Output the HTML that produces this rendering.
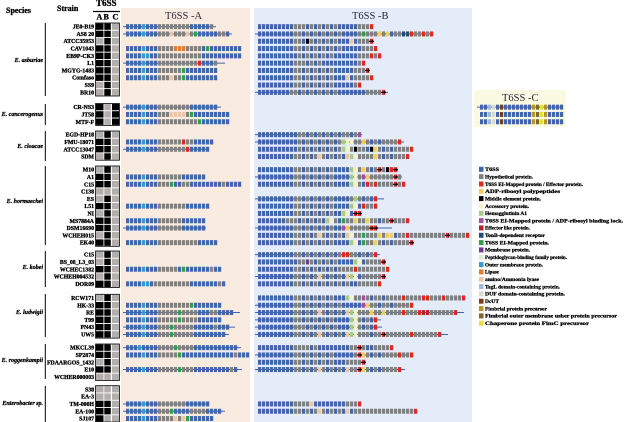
<!DOCTYPE html>
<html><head><meta charset="utf-8">
<style>
html,body{margin:0;padding:0;background:#fff;}
svg{display:block;}
text{font-family:"Liberation Serif",serif;font-weight:bold;fill:#000;}
.sp{font-style:italic;font-size:6px;stroke:#000;stroke-width:0.25px;}
.st{font-size:5.8px;stroke:#000;stroke-width:0.3px;}
.lg{font-size:5px;stroke:#000;stroke-width:0.25px;}
.ti{font-weight:normal;font-size:10.5px;fill:#2a2a3a;}
.hd{stroke:#000;stroke-width:0.3px;}
</style></head><body>
<svg id="s" width="624" height="422" viewBox="0 0 624 422" xmlns="http://www.w3.org/2000/svg">
<rect x="121" y="8" width="129" height="414" fill="#faebe1"/>
<rect x="254" y="8" width="218" height="414" fill="#e3ecf8"/>
<rect x="474" y="90" width="92" height="37" fill="#fafae3"/>
<g id="genes"></g>
<g id="mat"></g>
<text class="ti" x="165" y="19">T6SS -A</text>
<text class="ti" x="352" y="19">T6SS -B</text>
<text class="ti" x="502" y="101">T6SS -C</text>

<text class="hd" x="6" y="13" font-size="8">Species</text>
<text class="hd" x="57" y="11" font-size="8">Strain</text>
<text class="hd" x="96" y="6" font-size="9">T6SS</text>
<line x1="93" y1="11.5" x2="120" y2="11.5" stroke="#000" stroke-width="1.2"/>
<text class="hd" x="96.5" y="19.5" font-size="8">A</text>
<text class="hd" x="103.5" y="19.5" font-size="8">B</text>
<text class="hd" x="112.5" y="19.5" font-size="8">C</text>

<g stroke="#000" stroke-width="1">
<line x1="45.3" y1="23" x2="45.3" y2="96"/>
<line x1="45.3" y1="104" x2="45.3" y2="125"/>
<line x1="45.3" y1="131" x2="45.3" y2="161"/>
<line x1="45.3" y1="166" x2="45.3" y2="245"/>
<line x1="45.3" y1="251" x2="45.3" y2="287"/>
<line x1="45.3" y1="294" x2="45.3" y2="337"/>
<line x1="45.3" y1="344" x2="45.3" y2="379"/>
<line x1="45.3" y1="386" x2="45.3" y2="422"/>
</g>
<g text-anchor="end">
<text class="sp" x="43" y="62">E. asburiae</text>
<text class="sp" x="43" y="116">E. cancerogenus</text>
<text class="sp" x="43" y="148">E. cloacae</text>
<text class="sp" x="43" y="203">E. hormaechei</text>
<text class="sp" x="43" y="269">E. kobei</text>
<text class="sp" x="43" y="314">E. ludwigii</text>
<text class="sp" x="43" y="362">E. roggenkampii</text>
<text class="sp" x="43" y="405">Enterobacter sp.</text>
</g>
<g id="strains" text-anchor="end">
<text class="st" x="94" y="28.6">JE0-B19</text>
<text class="st" x="94" y="35.9">AS8 20</text>
<text class="st" x="94" y="43.2">ATCC35953</text>
<text class="st" x="94" y="50.5">CAV1043</text>
<text class="st" x="94" y="57.8">EB9P-CK3</text>
<text class="st" x="94" y="65.1">L1</text>
<text class="st" x="94" y="72.4">MGYG-1483</text>
<text class="st" x="94" y="79.7">Comfaso</text>
<text class="st" x="94" y="87.0">SS9</text>
<text class="st" x="94" y="94.3">BR10</text>
<text class="st" x="94" y="109.2">CR-NS3</text>
<text class="st" x="94" y="116.5">JT58</text>
<text class="st" x="94" y="123.8">MTF-F</text>
<text class="st" x="94" y="136.7">EGD-HP18</text>
<text class="st" x="94" y="144.0">FMU-18071</text>
<text class="st" x="94" y="151.3">ATCC13047</text>
<text class="st" x="94" y="158.6">SDM</text>
<text class="st" x="94" y="171.7">M10</text>
<text class="st" x="94" y="179.0">A1</text>
<text class="st" x="94" y="186.3">C15</text>
<text class="st" x="94" y="193.6">C138</text>
<text class="st" x="94" y="200.9">ES</text>
<text class="st" x="94" y="208.2">L51</text>
<text class="st" x="94" y="215.5">NI</text>
<text class="st" x="94" y="222.8">MS7884A</text>
<text class="st" x="94" y="230.1">DSM16690</text>
<text class="st" x="94" y="237.4">WCHEH015</text>
<text class="st" x="94" y="244.7">EK40</text>
<text class="st" x="94" y="256.7">C15</text>
<text class="st" x="94" y="264.0">BS_08_L3_03</text>
<text class="st" x="94" y="271.3">WCHEC1382</text>
<text class="st" x="94" y="278.6">WCHEH004532</text>
<text class="st" x="94" y="285.9">DOR09</text>
<text class="st" x="94" y="300.0">RCW171</text>
<text class="st" x="94" y="307.3">HK-33</text>
<text class="st" x="94" y="314.6">RE</text>
<text class="st" x="94" y="321.9">T99</text>
<text class="st" x="94" y="329.2">PN43</text>
<text class="st" x="94" y="336.5">UW5</text>
<text class="st" x="94" y="349.7">MKCL39</text>
<text class="st" x="94" y="357.0">SP2874</text>
<text class="st" x="94" y="364.3">FDAARGOS_1432</text>
<text class="st" x="94" y="371.6">E10</text>
<text class="st" x="94" y="378.9">WCHER000003</text>
<text class="st" x="94" y="391.4">S38</text>
<text class="st" x="94" y="398.7">EA-3</text>
<text class="st" x="94" y="406.0">TM-000H</text>
<text class="st" x="94" y="413.3">EA-100</text>
<text class="st" x="94" y="420.6">SJ107</text>
</g>

<g id="legend">
<rect x="479" y="166.8" width="4.5" height="5" fill="#4066ad"/>
<rect x="479" y="174.1" width="4.5" height="5" fill="#808080"/>
<rect x="479" y="181.5" width="4.5" height="5" fill="#e0281f"/>
<rect x="479" y="188.8" width="4.5" height="5" fill="#f2cb68"/>
<rect x="479" y="196.1" width="4.5" height="5" fill="#000000"/>
<rect x="479" y="203.5" width="4.5" height="5" fill="#f8efcf"/>
<rect x="479" y="210.8" width="4.5" height="5" fill="#a7c98a"/>
<rect x="479" y="218.1" width="4.5" height="5" fill="#a050a0"/>
<rect x="479" y="225.4" width="4.5" height="5" fill="#b5222a"/>
<rect x="479" y="232.8" width="4.5" height="5" fill="#1f4e79"/>
<rect x="479" y="240.1" width="4.5" height="5" fill="#2ea04a"/>
<rect x="479" y="247.4" width="4.5" height="5" fill="#6c3a95"/>
<rect x="479" y="254.8" width="4.5" height="5" fill="#dfe9d6"/>
<rect x="479" y="262.1" width="4.5" height="5" fill="#2f9bd3"/>
<rect x="479" y="269.4" width="4.5" height="5" fill="#e47c30"/>
<rect x="479" y="276.8" width="4.5" height="5" fill="#eec4a6"/>
<rect x="479" y="284.1" width="4.5" height="5" fill="#9db9da"/>
<rect x="479" y="291.4" width="4.5" height="5" fill="#d8d8d8"/>
<rect x="479" y="298.7" width="4.5" height="5" fill="#7a3b1a"/>
<rect x="479" y="306.1" width="4.5" height="5" fill="#b8922a"/>
<rect x="479" y="313.4" width="4.5" height="5" fill="#7d6630"/>
<rect x="479" y="320.7" width="4.5" height="5" fill="#e6df3c"/>
<text class="lg" x="485" y="171.1" textLength="14" lengthAdjust="spacingAndGlyphs">T6SS</text>
<text class="lg" x="485" y="178.4" textLength="48" lengthAdjust="spacingAndGlyphs">Hypothetical protein.</text>
<text class="lg" x="485" y="185.8" textLength="98" lengthAdjust="spacingAndGlyphs">T6SS EI-Mapped protein / Effector protein.</text>
<text class="lg" x="485" y="193.1" textLength="75" lengthAdjust="spacingAndGlyphs">ADP-ribosyl polypeptides</text>
<text class="lg" x="485" y="200.4" textLength="56" lengthAdjust="spacingAndGlyphs">Middle element protein.</text>
<text class="lg" x="485" y="207.8" textLength="44" lengthAdjust="spacingAndGlyphs">Accessory protein.</text>
<text class="lg" x="485" y="215.1" textLength="42" lengthAdjust="spacingAndGlyphs">Hemagglutinin A1</text>
<text class="lg" x="485" y="222.4" textLength="138" lengthAdjust="spacingAndGlyphs">T6SS EI-Mapped protein / ADP-ribosyl binding lock.</text>
<text class="lg" x="485" y="229.7" textLength="45" lengthAdjust="spacingAndGlyphs">Effector like protein.</text>
<text class="lg" x="485" y="237.1" textLength="60" lengthAdjust="spacingAndGlyphs">TonB-dependent receptor</text>
<text class="lg" x="485" y="244.4" textLength="64" lengthAdjust="spacingAndGlyphs">T6SS EI-Mapped protein.</text>
<text class="lg" x="485" y="251.7" textLength="45" lengthAdjust="spacingAndGlyphs">Membrane protein.</text>
<text class="lg" x="485" y="259.1" textLength="82" lengthAdjust="spacingAndGlyphs">Peptidoglycan-binding family protein.</text>
<text class="lg" x="485" y="266.4" textLength="58" lengthAdjust="spacingAndGlyphs">Outer membrane protein.</text>
<text class="lg" x="485" y="273.7" textLength="14" lengthAdjust="spacingAndGlyphs">Lipase</text>
<text class="lg" x="485" y="281.1" textLength="54" lengthAdjust="spacingAndGlyphs">amino/Ammonia lyase</text>
<text class="lg" x="485" y="288.4" textLength="75" lengthAdjust="spacingAndGlyphs">TagL domain-containing protein.</text>
<text class="lg" x="485" y="295.7" textLength="80" lengthAdjust="spacingAndGlyphs">DUF domain-containing protein.</text>
<text class="lg" x="485" y="303.0" textLength="14" lengthAdjust="spacingAndGlyphs">DcUT</text>
<text class="lg" x="485" y="310.4" textLength="62" lengthAdjust="spacingAndGlyphs">Fimbrial protein precursor</text>
<text class="lg" x="485" y="317.7" textLength="132" lengthAdjust="spacingAndGlyphs">Fimbrial outer membrane usher protein precursor</text>
<text class="lg" x="485" y="325.0" textLength="104" lengthAdjust="spacingAndGlyphs">Chaperone protein FimC precursor</text>
</g>
</svg>
<script>
(function(){
var NS="http://www.w3.org/2000/svg";
var col={B:'#4066ad',G:'#808080',T:'#2f9bd3',P:'#eec4a6',g:'#2ea04a',R:'#e0281f',O:'#e47c30',Y:'#f2cb68',K:'#000000',C:'#f8efcf',L:'#a7c98a',M:'#a050a0',D:'#b5222a',N:'#1f4e79',V:'#6c3a95',W:'#dfe9d6',S:'#9db9da',H:'#d8d8d8',E:'#7a3b1a',U:'#b8922a',Q:'#7d6630',Z:'#e6df3c',X:'#e0281f'};
var tops=[23,103.5,131,166,251,294.3,344,385.7];
var PH=7.3;
var genes=document.getElementById('genes');
var mat=document.getElementById('mat');
function el(tag,attrs,parent){var e=document.createElementNS(NS,tag);for(var k in attrs)e.setAttribute(k,attrs[k]);parent.appendChild(e);return e;}
var A=[
[["BBBBTBBBGGGGGGGGBBBBBG",216],["BBBBTBBBGGGPGGGPGgBBBBBGGB",232],0,"BBBBTBBBGGGGOOOGGGGBgBBBBBBBB","BBBBTTBBGGGGGGGGGGGBBBBBBBBBB",["BBBBTBBBGGGGGGGGGGRBBBG",225],"BBBBTBBBGGGGGGgBBBBBBBB","BBBBTBBBGGGPGGgBBBBBBBB",0,0],
[["BBBBTBBBGGGGGGGGBBBBBBB",221],"BBBBTBBBGGGPPPPGgBBBBBBBBB","BBBBTBBBGGGGGGGGGGgBBBBBBB"],
[0,"BBBBTBBBGGGGGGRGGBBBBB",["BBBBTBBBGGGGGGGRBBBBB",209],0],
[0,"BBBBTBBBGGGGGGBBBBBB","BBBBTBBBGGGgBBGGBBBBBBBBGBBBB",0,0,"BBBBTBBBGGGGGGGBBBBBB",0,"BBBBTBBBGGGGGGBBBBBB",["BBBBTBBBGGGGGGBBBBBB",206],0,"BBBBTBBBGGGGGGGGGGBBBBB"],
[0,0,"BBBBTBBBGGGGGBgBBBBBBGBB",0,"BBBBTTBGGGGGGGGGBBBBBBBGB"],
[0,"BBBBTBBBGGGGGGGGgBBBBBBB",["BBBBTBBBGGGGGgGGGGBBBGGBBBB",240],"BBBBTBBBGGGGGgGGGGBBBBBB",["BBBBTBBBGGGgGGGGGBBBBBGBBB",235],["BBBBTBBBGGGgGGGGGBBBBBBBB",229]],
[["BBBTBBBBGGGGgGGGGBBBBBBBBBBB",241],"BBBBTBBBGGGGGgBBBBBBBBBBBBBGBBB",0,["BBBBTBBBGGGGGgGGGBBBBBBBBBGB",242],0],
[0,0,["BBBBTBBBGGGGGGGBBBBBB",209],["BBBBTBBBGGGgBBBBGGGGBBBB",225],"BBBBTBBBGGGGPGPgBBBBBB"]
];
var Bd=[
["BBBBBBBBBGGGBGBGBGBGBBBBBGGGR",["BBBBBBBBBGGBGBGBGBGBGBBBBGgGGGYGYBGGNNRGGRGR",432],"BBBBBBBBBGGBKGBGBGBGBBBPBGGGX","BBBBBBBBBGGBGBGBGBGBGBBBBBGGGR","BBBBBBBBBBGBGBGBGBGBBBBBBGGGRGR","BBBBBBBBBGGGBGBGBBBBBBBBBGR","BBBBBBBBBGGBGBGBGBGBBBBBGGGX","BBBBBBBBBGGBGBGBGBGBBBPBGGGGR","BBBBBBBBBGGBGBGBGBGBBBBBGR",["BBBBBBBBGGBGBGBGBGBGBBBBBBBGGGGX",388]],
[0,0,0],
[["BBBBBBBBBBGGBGBGBGBGBGGBGM",362],["BBBBBBBBBBGBGBGBGBGBGLCCGGYGBGBGGGGR",404],"BBBBBBBBBBGBGBGBGBGBGLCGKGGBKYGBGBGGGGR","BBBBBBBBBGGBGBGPGBGBGBPLCGGGGYGBGBGGGR"],
["BBBBBBBBBGGBGBGBGBGBBBBLCGYGBGXGKRX",["BBBBBBBBBGGBGBGBGBGBBBBLCGMYGGGGGGXG",402],"BBBBBBBBBGGBGBGBGBGBBBBLCGBRGRGGGGXGR",0,["BBBBBBBBBGGBGBGBGBGBBBBGLGBGBR",384],"BBBBBBBBBGGBGBGBGBGBBBBLCBRGGR","BBBBBBBBBGGBGBGBGBGBBLCBXX","BBBBBBBGGGBGBGBGBLCGBgGGYGGYGGBGGXGGGR",["BBBBBBBBBGGBGBGBGBGBBMYGGGGGXX",392],"BBBBBBBBBGGBGBGPGBGBGBPCGGgGGGYGYYBGGRGGGGGGGGGXGGGGR","BBBBBBBBBGGBGBGBGBGBBBBLCBgGGYGBGBGGGGX"],
[["BBBBBBBBBGGBGBGBGBGBGRRGGBGBGR",380],"BBBBBBBBBBGGVGBGBGBGBBBBLCBGGGGX","BBBBBBBBBGGBGBGBGBGBGGGGRGGGGGGGR",["BBBBBBBBBGGBGBGPGBGBGBPLCBGGGGGX",385],"BBBBBBBBBGGBGBGBGBGBGBGBBGGGGGR"],
["BBBBBBBBBGGBGBGBGBGBBBLCGGMGBGGBGGGGRGGGGRRGGGRGGGGR",["BBBBBBBBBGGBGBGBGBGBGBBBBBMYGGBGGBGGGGR",409],["BBBBBBBBBGGBGBGPGBGBGBPLCGGGYGGYGGGGRGGGRDDGGGGGGR",464],["BBBBBBBBBGGBGBGBGBGBBBBLCGBGBR",381],["BBBBBBBBBGGGBGBGBGBGBBBLCGBGBR",382],["BBBBBBBBBGGBGBGPGBGBGBPLCGGGBGGXGGGGGGRGGGGGGR",448]],
["BBBBBBBBBGGGGBGBBBBBBBBGGXGBBGGGGR",["BBBBBBBBBGGBGBGBGBGBBBBBGXYGBGBGGGGRGGR",409],"BBBBBBBBBGGBGBGBGBGBBBGGGGX",["BBBBBBBBBGGBGBGPGBGBGBPGGXYGBGBGGGGR",405],0],
[0,0,"BBBBBBBBBGGGGPBBBBBBBBGGGR","BBBBBBBBBGGBGBGPGBGBGBPBGGGGGGGGGGGGGGGR",0]
];
var Cd=[["BBSHBEBBBBBBBUQZUBBBB",563],"BBSHBEBBBBBBBUQZUBBBB","BBSHBEBBBBBBBUQZUBBBB"];
var M=[
["110","110","010","110","110","110","110","110","010","010"],
["101","101","101"],
["010","110","110","010"],
["010","110","110","000","010","110","010","110","110","010","110"],
["010","010","110","010","110"],
["010","110","110","110","110","110"],
["110","110","010","110","000"],
["000","000","110","110","100"]
];
function row(x0,ls,yc,entry){
  if(!entry)return;
  var s=entry,le=null;
  if(typeof entry!=='string'){s=entry[0];le=entry[1];}
  if(le){el('line',{x1:ls,y1:yc,x2:le,y2:yc,stroke:'#3f66ad','stroke-width':1},genes);}
  for(var i=0;i<s.length;i++){
    var ch=s[i];var x=x0+i*4;
    el('rect',{x:x,y:yc-2.5,width:3.2,height:5,fill:col[ch]||'#808080'},genes);
    if(ch==='X'){el('rect',{x:x-1,y:yc-0.5,width:5,height:1.1,fill:'#000'},genes);el('rect',{x:x+2.2,y:yc-1.3,width:1,height:2.6,fill:'#000'},genes);}
  }
}
for(var g=0;g<tops.length;g++){
  var n=M[g].length;
  for(var r=0;r<n;r++){
    var yc=tops[g]+(r+0.5)*PH;
    row(126,123,yc,A[g][r]);
    row(258,255,yc,Bd[g][r]);
    if(g===1)row(480,477,yc,Cd[r]);
    var m=M[g][r];var yt=tops[g]+r*PH;
    var xs=[96,104.3,112],ws=[7.5,6.5,7];
    for(var c=0;c<3;c++){
      el('rect',{x:xs[c],y:yt+0.4,width:ws[c],height:PH-0.9,fill:m[c]==='1'?'#000':'#b1aeac'},mat);
    }
  }
  var h=Math.min(n*PH,422-tops[g]);
  el('rect',{x:95.6,y:tops[g],width:23.8,height:h,fill:'none',stroke:'#000','stroke-width':0.8},mat);
}
})();
</script>
</body></html>
